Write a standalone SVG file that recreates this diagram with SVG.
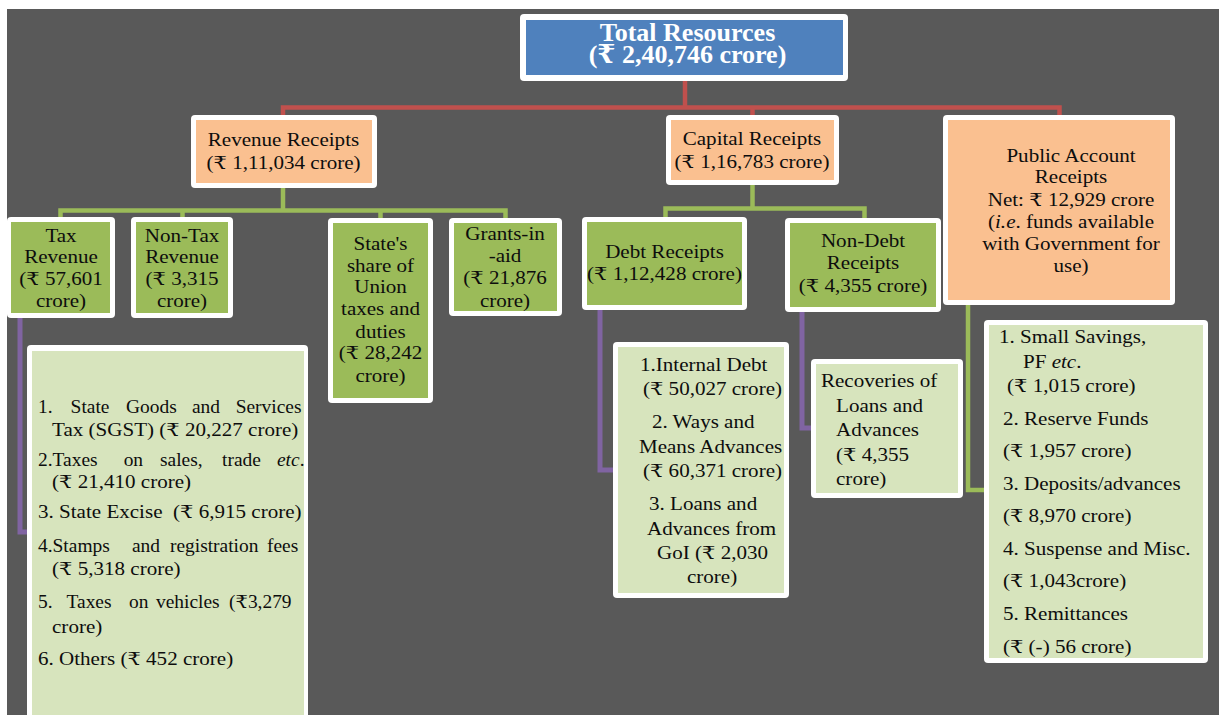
<svg xmlns="http://www.w3.org/2000/svg" width="1225" height="715" viewBox="0 0 1225 715">
<style>
.bd{fill:#ffffff}
.blue{fill:#4F81BD}
.peach{fill:#FAC090}
.grn{fill:#9BBB59}
.lgrn{fill:#D7E4BD}
.t{font-family:"Liberation Serif","DejaVu Serif",serif;font-size:18px;fill:#0d0d0d}
.c{text-anchor:middle}
.ttl{font-family:"Liberation Serif","DejaVu Serif",serif;font-size:26px;font-weight:bold;fill:#ffffff;text-anchor:middle}
.red{fill:none;stroke:#C0504D;stroke-width:4.5}
.gl{fill:none;stroke:#9BBB59;stroke-width:4.5}
.pl{fill:none;stroke:#8064A2;stroke-width:5}
</style>
<rect x="0" y="0" width="1225" height="715" fill="#ffffff"/>
<rect x="7" y="9" width="1212" height="706" fill="#595959"/>

<g id="connectors">
<path class="red" d="M685,80 V107.5 M283,117 V107.5 H1059.5 V117 M752.5,107.5 V117"/>
<path class="gl" d="M283,187 V210.5 M60.5,219 V210.5 H505.5 V219 M182.5,210.5 V219 M380.5,210.5 V219"/>
<path class="gl" d="M752.5,185 V208.5 M665.5,218 V208.5 H864.5 V218"/>
<path class="pl" d="M20,318 V532 H30"/>
<path class="pl" d="M600,310 V470 H615"/>
<path class="pl" d="M802,312 V428 H813"/>
<path class="gl" d="M968,305 V490 H986"/>
</g>

<g id="total">
<rect class="bd" x="520" y="14" width="328" height="67" rx="4"/>
<rect class="blue" x="526" y="20" width="317" height="55"/>
<text class="ttl"><tspan x="687.5" y="41">Total Resources</tspan><tspan x="687.5" y="63">(₹ 2,40,746 crore)</tspan></text>
</g>

<g id="revenue">
<rect class="bd" x="191" y="115" width="186" height="73" rx="4"/>
<rect class="peach" x="196" y="120" width="176" height="63"/>
<g transform="translate(283.5 0) scale(1.17 1)"><text class="t c"><tspan x="0" y="146">Revenue Receipts</tspan><tspan x="0" y="169">(₹ 1,11,034 crore)</tspan></text></g>
</g>

<g id="capital">
<rect class="bd" x="666" y="115" width="173" height="70" rx="4"/>
<rect class="peach" x="671" y="120" width="163" height="60"/>
<g transform="translate(752 0) scale(1.17 1)"><text class="t c"><tspan x="0" y="145">Capital Receipts</tspan><tspan x="0" y="168">(₹ 1,16,783 crore)</tspan></text></g>
</g>

<g id="public">
<rect class="bd" x="943" y="115" width="232" height="190" rx="4"/>
<rect class="peach" x="948" y="120" width="222" height="180"/>
<g transform="translate(1071 0) scale(1.17 1)"><text class="t c"><tspan x="0" y="162">Public Account</tspan><tspan x="0" y="183">Receipts</tspan><tspan x="0" y="206">Net: ₹ 12,929 crore</tspan><tspan x="0" y="228">(<tspan font-style="italic">i.e</tspan>. funds available</tspan><tspan x="0" y="250">with Government for</tspan><tspan x="0" y="272">use)</tspan></text></g>
</g>

<g id="tax">
<rect class="bd" x="7" y="217" width="108" height="101" rx="4"/>
<rect class="grn" x="11" y="222" width="99" height="91"/>
<g transform="translate(61 0) scale(1.17 1)"><text class="t c"><tspan x="0" y="242">Tax</tspan><tspan x="0" y="263">Revenue</tspan><tspan x="0" y="285">(₹ 57,601</tspan><tspan x="0" y="307">crore)</tspan></text></g>
</g>

<g id="nontax">
<rect class="bd" x="131" y="217" width="102" height="101" rx="4"/>
<rect class="grn" x="136" y="222" width="92" height="91"/>
<g transform="translate(182 0) scale(1.17 1)"><text class="t c"><tspan x="0" y="242">Non-Tax</tspan><tspan x="0" y="263">Revenue</tspan><tspan x="0" y="285">(₹ 3,315</tspan><tspan x="0" y="307">crore)</tspan></text></g>
</g>

<g id="stateshare">
<rect class="bd" x="328" y="218" width="105" height="185" rx="4"/>
<rect class="grn" x="333" y="223" width="95" height="175"/>
<g transform="translate(380.5 0) scale(1.17 1)"><text class="t c"><tspan x="0" y="250">State's</tspan><tspan x="0" y="272">share of</tspan><tspan x="0" y="293">Union</tspan><tspan x="0" y="315">taxes and</tspan><tspan x="0" y="338">duties</tspan><tspan x="0" y="359">(₹ 28,242</tspan><tspan x="0" y="382">crore)</tspan></text></g>
</g>

<g id="grants">
<rect class="bd" x="449" y="218" width="113" height="98" rx="4"/>
<rect class="grn" x="454" y="223" width="103" height="88"/>
<g transform="translate(505 0) scale(1.17 1)"><text class="t c"><tspan x="0" y="240">Grants-in</tspan><tspan x="0" y="262">-aid</tspan><tspan x="0" y="284">(₹ 21,876</tspan><tspan x="0" y="307">crore)</tspan></text></g>
</g>

<g id="debt">
<rect class="bd" x="582" y="217" width="165" height="93" rx="4"/>
<rect class="grn" x="587" y="222" width="155" height="83"/>
<g transform="translate(664.5 0) scale(1.17 1)"><text class="t c"><tspan x="0" y="258">Debt Receipts</tspan><tspan x="0" y="280">(₹ 1,12,428 crore)</tspan></text></g>
</g>

<g id="nondebt">
<rect class="bd" x="785" y="218" width="156" height="94" rx="4"/>
<rect class="grn" x="790" y="223" width="146" height="84"/>
<g transform="translate(863 0) scale(1.17 1)"><text class="t c"><tspan x="0" y="247">Non-Debt</tspan><tspan x="0" y="269">Receipts</tspan><tspan x="0" y="292">(₹ 4,355 crore)</tspan></text></g>
</g>

<g id="taxlist">
<rect class="bd" x="27" y="345" width="281" height="380" rx="4"/>
<rect class="lgrn" x="32" y="351" width="272" height="370"/>
<g transform="translate(38 0) scale(1.08 1)">
<text class="t" y="413"><tspan x="0">1.</tspan><tspan x="30.2">State</tspan><tspan x="81.5">Goods</tspan><tspan x="142.6">and</tspan><tspan x="183">Services</tspan></text>
<text class="t" y="466"><tspan x="0">2.Taxes</tspan><tspan x="79.3">on</tspan><tspan x="113">sales,</tspan><tspan x="170.4">trade</tspan><tspan x="221.3" font-style="italic">etc</tspan><tspan>.</tspan></text>
<text class="t" y="552"><tspan x="0">4.Stamps</tspan><tspan x="87">and</tspan><tspan x="122.2">registration</tspan><tspan x="212">fees</tspan></text>
<text class="t" y="608"><tspan x="0">5.</tspan><tspan x="26.4">Taxes</tspan><tspan x="84.3">on</tspan><tspan x="109.3">vehicles</tspan><tspan x="176.9">(₹3,279</tspan></text>
</g>
<g transform="translate(38 0) scale(1.17 1)">
<text class="t" x="12" y="436">Tax (SGST) (₹ 20,227 crore)</text>
<text class="t" x="12" y="488">(₹ 21,410 crore)</text>
<text class="t" x="0" y="518" xml:space="preserve">3. State Excise  (₹ 6,915 crore)</text>
<text class="t" x="12" y="575">(₹ 5,318 crore)</text>
<text class="t" x="12" y="633">crore)</text>
<text class="t" x="0" y="665">6. Others (₹ 452 crore)</text>
</g>
</g>

<g id="debtlist">
<rect class="bd" x="613" y="342" width="176" height="256" rx="4"/>
<rect class="lgrn" x="618" y="347" width="166" height="246"/>
<g transform="translate(613 0) scale(1.17 1)">
<text class="t"><tspan x="23.1" y="371">1.Internal Debt</tspan><tspan x="25.6" y="395">(₹ 50,027 crore)</tspan><tspan x="33.3" y="428">2. Ways and</tspan><tspan x="22.2" y="453">Means Advances</tspan><tspan x="25.6" y="477">(₹ 60,371 crore)</tspan><tspan x="30.8" y="510">3. Loans and</tspan><tspan x="29.1" y="535">Advances from</tspan><tspan x="37.6" y="559">GoI (₹ 2,030</tspan><tspan x="63.2" y="583">crore)</tspan></text>
</g>
</g>

<g id="recoveries">
<rect class="bd" x="811" y="359" width="152" height="139" rx="4"/>
<rect class="lgrn" x="816" y="364" width="142" height="129"/>
<g transform="translate(811 0) scale(1.17 1)">
<text class="t"><tspan x="8.5" y="387">Recoveries of</tspan><tspan x="21.4" y="412">Loans and</tspan><tspan x="21.4" y="436">Advances</tspan><tspan x="21.4" y="461">(₹ 4,355</tspan><tspan x="21.4" y="485">crore)</tspan></text>
</g>
</g>

<g id="publiclist">
<rect class="bd" x="984" y="320" width="224" height="343" rx="4"/>
<rect class="lgrn" x="989" y="325" width="214" height="333"/>
<g transform="translate(984 0) scale(1.17 1)">
<text class="t"><tspan x="12.8" y="343">1. Small Savings,</tspan><tspan x="33.3" y="368">PF <tspan font-style="italic">etc</tspan>.</tspan><tspan x="19.7" y="392">(₹ 1,015 crore)</tspan><tspan x="16.2" y="425">2. Reserve Funds</tspan><tspan x="16.2" y="457">(₹ 1,957 crore)</tspan><tspan x="16.2" y="490">3. Deposits/advances</tspan><tspan x="16.2" y="522">(₹ 8,970 crore)</tspan><tspan x="16.2" y="555">4. Suspense and Misc.</tspan><tspan x="16.2" y="587">(₹ 1,043crore)</tspan><tspan x="16.2" y="620">5. Remittances</tspan><tspan x="16.2" y="653">(₹ (-) 56 crore)</tspan></text>
</g>
</g>
</svg>
